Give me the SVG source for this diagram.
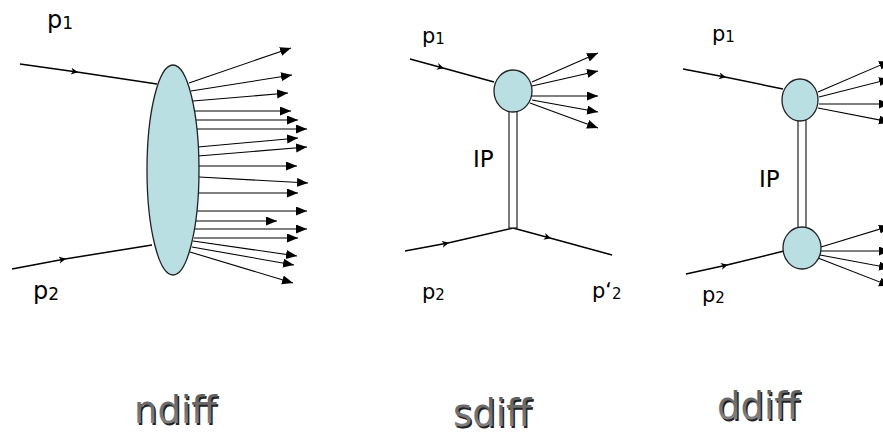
<svg xmlns="http://www.w3.org/2000/svg" width="883" height="437" viewBox="0 0 883 437">
<defs>
<marker id="ah" markerUnits="userSpaceOnUse" markerWidth="12" markerHeight="10" refX="11" refY="4.5" orient="auto"><path d="M0,0 L11,4.5 L0,9 Z" fill="#000"/></marker>
<marker id="mid" markerUnits="userSpaceOnUse" markerWidth="10" markerHeight="8" refX="6" refY="3.5" orient="auto"><path d="M0,0 L7,3.5 L0,7 L2,3.5 Z" fill="#000"/></marker>
<linearGradient id="tg" x1="0" y1="0" x2="0" y2="1"><stop offset="0" stop-color="#5a5a5a"/><stop offset="1" stop-color="#8a8a8a"/></linearGradient>
</defs>
<style>
.ln{stroke:#000;stroke-width:1.3;fill:none}
.out{stroke:#000;stroke-width:1.1;fill:none;marker-end:url(#ah)}
.in{stroke:#000;stroke-width:1.5;fill:none;marker-mid:url(#mid)}
.blob{fill:#b9dfe3;stroke:#222;stroke-width:1.3}
.pom{fill:#fff;stroke:#222;stroke-width:1.2}
.lbl{font-family:"DejaVu Sans",sans-serif;fill:#000}
.big{font-family:"DejaVu Sans",sans-serif;font-size:37px;fill:url(#tg)}
.sh{font-family:"DejaVu Sans",sans-serif;font-size:37px;fill:#222}
</style>
<rect width="883" height="437" fill="#fff"/>

<g id="connectors">
<path class="in" d="M20,64 L77,72 L157,84"/>
<path class="in" d="M12,269 L65,259 L152,245"/>
<path class="out" d="M189,83 L291,48"/>
<path class="out" d="M191,91 L292,75"/>
<path class="out" d="M193,101 L288,93"/>
<path class="out" d="M195,111 L291,111"/>
<path class="out" d="M196,120 L298,120"/>
<path class="out" d="M197,129 L307,129"/>
<path class="out" d="M198,147 L298,138"/>
<path class="out" d="M198,156 L307,147"/>
<path class="out" d="M199,166 L297,166"/>
<path class="out" d="M199,177 L308,183"/>
<path class="out" d="M198,193 L298,193"/>
<path class="out" d="M197,211 L307,211"/>
<path class="out" d="M196,221 L277,221"/>
<path class="out" d="M195,229 L307,229"/>
<path class="out" d="M194,238 L298,238"/>
<path class="out" d="M193,241 L297,256"/>
<path class="out" d="M192,247 L294,265"/>
<path class="out" d="M190,252 L293,283"/>
<path class="in" d="M410,59 L443,68 L494,82"/>
<path class="in" d="M405,251 L448,243 L513,228"/>
<path class="in" d="M513,228 L550,238 L612,255"/>
<path class="out" d="M532,82 L598,53"/>
<path class="out" d="M532,86 L598,71"/>
<path class="out" d="M532,96 L598,96"/>
<path class="out" d="M532,100 L598,112"/>
<path class="out" d="M530,103 L598,128"/>
<path class="in" d="M683,69 L725,77 L783,89"/>
<path class="in" d="M686,274 L727,265 L784,251"/>
<path class="out" d="M818,92 L890,61"/>
<path class="out" d="M819,97 L890,79"/>
<path class="out" d="M819,104 L890,104"/>
<path class="out" d="M818,108 L890,122"/>
<path class="out" d="M821,247 L890,226"/>
<path class="out" d="M821,251 L890,251"/>
<path class="out" d="M820,255 L890,268"/>
<path class="out" d="M818,258 L890,286"/>
</g>

<g id="ndiff-blob"><ellipse class="blob" cx="173" cy="170" rx="26" ry="105"/></g>

<g id="sdiff-pomeron"><rect class="pom" x="509" y="110" width="8" height="118"/></g>
<g id="sdiff-blob"><ellipse class="blob" cx="513" cy="91" rx="19" ry="21"/></g>

<g id="ddiff-pomeron"><rect class="pom" x="798" y="120" width="8" height="109"/></g>
<g id="ddiff-blob-top"><ellipse class="blob" cx="800" cy="100" rx="18" ry="21"/></g>
<g id="ddiff-blob-bottom"><ellipse class="blob" cx="802" cy="248" rx="19" ry="21"/></g>

<g id="labels">
<text class="lbl" x="47" y="28" font-size="24">p<tspan font-size="17" dy="1">1</tspan></text>
<text class="lbl" x="33" y="299" font-size="24">p<tspan font-size="17" dy="1">2</tspan></text>
<text class="lbl" x="422" y="43" font-size="21">p<tspan font-size="15" dy="1">1</tspan></text>
<text class="lbl" x="473" y="167" font-size="23" font-family="Liberation Sans">IP</text>
<text class="lbl" x="422" y="299" font-size="21">p<tspan font-size="15" dy="1">2</tspan></text>
<text class="lbl" x="592" y="298" font-size="21">p‘<tspan font-size="15" dy="1">2</tspan></text>
<text class="lbl" x="712" y="41" font-size="21">p<tspan font-size="15" dy="1">1</tspan></text>
<text class="lbl" x="759" y="187" font-size="23" font-family="Liberation Sans">IP</text>
<text class="lbl" x="702" y="302" font-size="21">p<tspan font-size="15" dy="1">2</tspan></text>
</g>

<g id="titles">
<text class="sh" x="135.5" y="424.5">ndiff</text>
<text class="big" x="134" y="423">ndiff</text>
<text class="sh" x="454.5" y="427.5">sdiff</text>
<text class="big" x="453" y="426">sdiff</text>
<text class="sh" x="718.5" y="420.5">ddiff</text>
<text class="big" x="717" y="419">ddiff</text>
</g>
</svg>
